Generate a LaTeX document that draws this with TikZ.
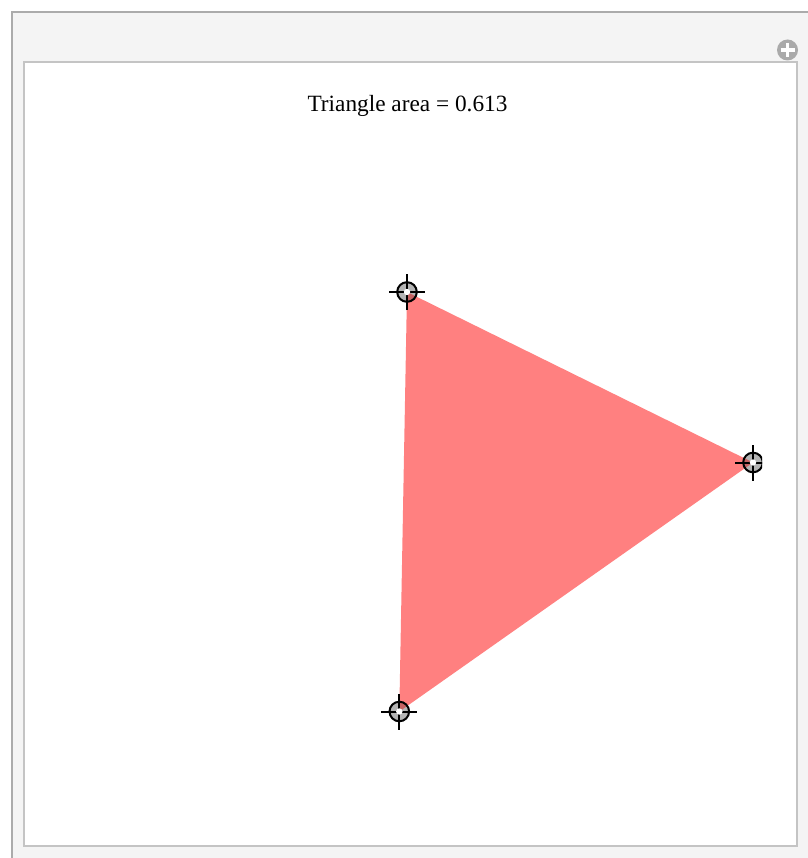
\documentclass[tikz,border=0pt]{standalone}
\usepackage{fontspec}
\setmainfont{Liberation Serif}
\definecolor{panelbg}{HTML}{F4F4F4}
\definecolor{outerline}{HTML}{ABABAB}
\definecolor{innerline}{HTML}{C4C4C4}
\definecolor{plusgray}{HTML}{AAAAAA}
\definecolor{locgray}{HTML}{B4B4B4}
\definecolor{trired}{HTML}{FF8080}
\tikzset{
  locdisk/.style={fill=locgray,draw=black,line width=2pt},
  loccross/.style={draw=black,line width=2pt},
}
\begin{document}
\begin{tikzpicture}[x=1pt,y=-1pt]
\useasboundingbox (0,0) rectangle (807,858);
% outer panel
\fill[panelbg] (12,12) rectangle (810,860);
\draw[outerline,line width=2.6pt] (12,870) -- (12,12) -- (820,12);
% plus icon
\fill[plusgray] (787.5,50) circle (10.5);
\draw[white,line width=3.6pt] (780.5,50) -- (794.5,50) (787.5,43) -- (787.5,57);
% inner white box
\filldraw[fill=white,draw=innerline,line width=2pt] (24,62.5) rectangle (797,846);
% title
\node[font=\fontsize{23.3}{28}\selectfont,anchor=base] (title) at (407.5,111.5) {Triangle area = 0.613};
% vertices
\coordinate (A) at (407,292);
\coordinate (B) at (753,462.5);
\coordinate (C) at (399.3,711.5);
\begin{scope}
\clip (24,62.5) rectangle (762,846);
% locator disks
\foreach \p in {A,B,C} {
  \fill[locgray] (\p) circle (9.8);
}
% triangle
\fill[trired] (A) -- (B) -- (C) -- cycle;
% overlay on disks (darker where triangle covers disk)
\begin{scope}
\clip (A) -- (B) -- (C) -- cycle;
\foreach \p in {A,B,C} {
  \fill[black!50!trired,opacity=0.45] (\p) circle (9.8);
}
\end{scope}
\foreach \p in {A,B,C} {
  \draw[loccross] (\p) circle (9.8);
  \draw[loccross] ([xshift=-18pt]\p) -- ([xshift=18pt]\p);
  \draw[loccross] ([yshift=-18pt]\p) -- ([yshift=18pt]\p);
  \fill[white] (\p) circle (3.2);
}
\end{scope}
\end{tikzpicture}
\end{document}
